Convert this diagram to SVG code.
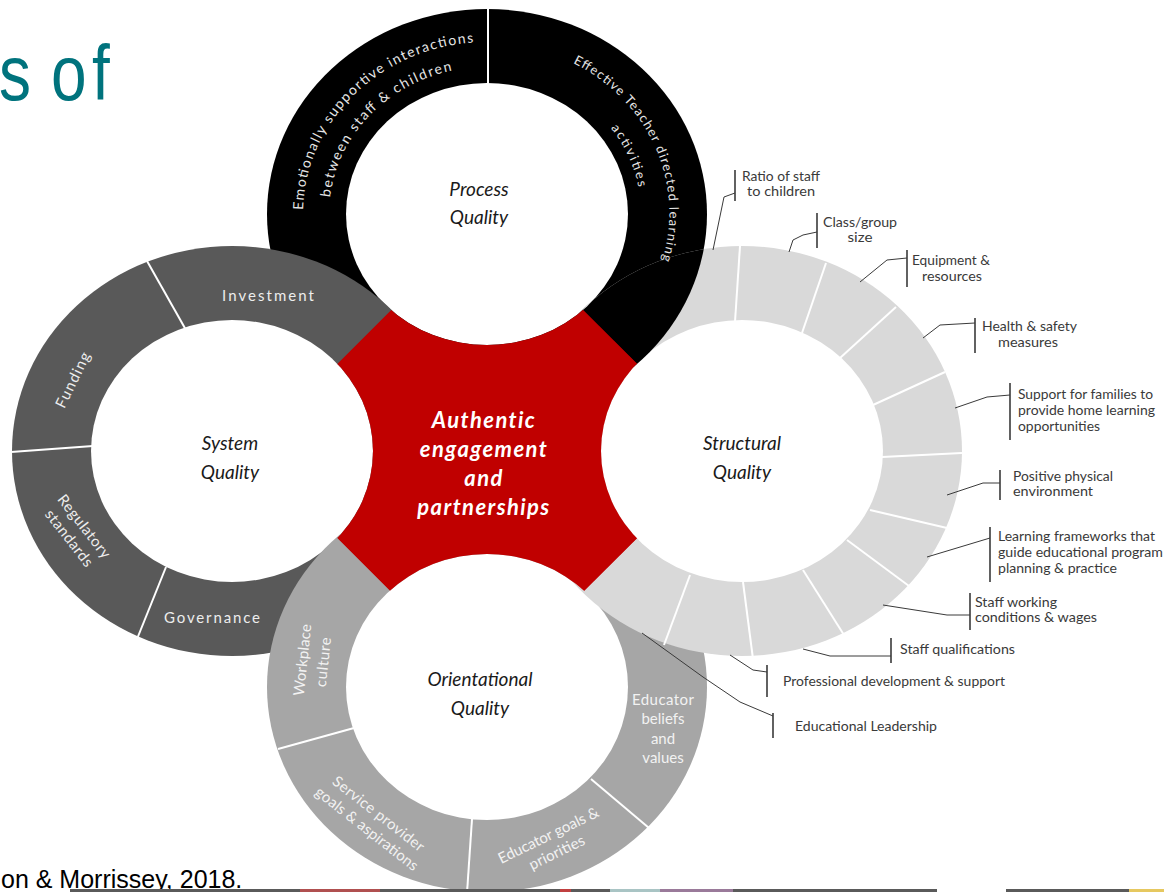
<svg xmlns="http://www.w3.org/2000/svg" xmlns:xlink="http://www.w3.org/1999/xlink" width="1164" height="892" viewBox="0 0 1164 892">
<style>
.div{stroke:#ffffff;stroke-width:2;fill:none}
.inner{fill:#ffffff}
.ctr{font-family:Lato,"Open Sans","Liberation Sans",sans-serif;font-style:italic;font-size:19px;fill:#1a1a1a;text-anchor:middle}
.rl{font-family:Lato,"Open Sans","Liberation Sans",sans-serif;font-size:15px;fill:#ededed;text-anchor:middle}
.pl{font-family:Lato,"Open Sans","Liberation Sans",sans-serif;font-size:14px;fill:#e6e6e6;text-anchor:middle}
.sl{font-family:Lato,"Open Sans","Liberation Sans",sans-serif;font-size:12.5px;fill:#3a3a3a}
.mid{text-anchor:middle}
.ld{stroke:#3a3a3a;stroke-width:1;fill:none}
.bar{stroke:#3a3a3a;stroke-width:1.6;fill:none}
</style>
<defs>
<clipPath id="clip-struct"><ellipse cx="742" cy="451" rx="220" ry="205"/></clipPath>
<mask id="red-mask" maskUnits="userSpaceOnUse" x="0" y="0" width="1164" height="892">
<path d="M487,214 L725,451 L487,688 L250,451 Z" fill="#fff"/>
<ellipse cx="487" cy="214" rx="141" ry="131" fill="#000"/>
<ellipse cx="232" cy="451" rx="141" ry="131" fill="#000"/>
<ellipse cx="742" cy="451" rx="141" ry="131" fill="#000"/>
<ellipse cx="487" cy="687" rx="141" ry="133" fill="#000"/>
</mask>
<path id="pL1" d="M303,214 A184,172 0 0 1 477.4,42.2"/>
<path id="pL2" d="M329.4,224.3 A158,147 0 0 1 478.7,67.2"/>
<path id="pR1" d="M552,54 A182,170 0 0 1 658,272"/>
<path id="pR2" d="M541,79 A154,144 0 0 1 632,263"/>
</defs>

<rect width="1164" height="892" fill="#ffffff"/>

<text font-family="'Liberation Sans',Arial,sans-serif" font-size="64" fill="#00737d" transform="translate(0,100) scale(1,1.22)" x="-1 30 51 92" y="0">s of</text>

<g id="node-process">
<g id="process-disc">
<ellipse cx="487" cy="214" rx="220" ry="205" fill="#000000"/>
<ellipse class="inner" cx="487" cy="214" rx="141" ry="131"/>
<line class="div" x1="488" y1="8" x2="488" y2="84"/>
<text class="pl"><textPath href="#pL1" startOffset="50%" textLength="262" lengthAdjust="spacing">Emotionally supportive interactions</textPath></text>
<text class="pl"><textPath href="#pL2" startOffset="50%" textLength="188" lengthAdjust="spacing">between staff &amp; children</textPath></text>
<text class="pl" style="font-size:13px"><textPath href="#pR1" startOffset="52%" textLength="236" lengthAdjust="spacing">Effective Teacher directed learning</textPath></text>
<text class="pl" style="font-size:13px"><textPath href="#pR2" startOffset="52%" textLength="66" lengthAdjust="spacing">activities</textPath></text>
</g>
<text class="ctr" x="479" y="196">Process</text>
<text class="ctr" x="479" y="224">Quality</text>
</g>

<g id="node-system">
<ellipse cx="232" cy="451" rx="220" ry="205" fill="#595959"/>
<ellipse class="inner" cx="232" cy="451" rx="141" ry="131"/>
<line class="div" x1="147" y1="261" x2="186" y2="330"/>
<line class="div" x1="11" y1="452" x2="93" y2="446"/>
<line class="div" x1="137" y1="639" x2="166" y2="567"/>
<text class="rl" x="268" y="301" textLength="92" lengthAdjust="spacing">Investment</text>
<text class="rl" transform="translate(73,380) rotate(-64)" x="0" y="5" textLength="60" lengthAdjust="spacing">Funding</text>
<text class="rl" transform="translate(77,532) rotate(52)"><tspan x="0" y="-4" textLength="76" lengthAdjust="spacing">Regulatory</tspan><tspan x="0" y="15" textLength="68" lengthAdjust="spacing">standards</tspan></text>
<text class="rl" x="212" y="623" textLength="96" lengthAdjust="spacing">Governance</text>
<text class="ctr" x="230" y="450">System</text>
<text class="ctr" x="230" y="479">Quality</text>
</g>

<g id="node-orientational">
<ellipse cx="487" cy="687" rx="220" ry="205" fill="#a6a6a6"/>
<ellipse class="inner" cx="487" cy="687" rx="141" ry="133"/>
<line class="div" x1="278" y1="749" x2="354" y2="728"/>
<line class="div" x1="472" y1="819" x2="467" y2="893"/>
<line class="div" x1="591" y1="779" x2="649" y2="828"/>
<text class="rl" style="fill:#f2f2f2" transform="translate(312.5,661) rotate(-84)"><tspan x="0" y="-5" textLength="72" lengthAdjust="spacing">Workplace</tspan><tspan x="0" y="16" textLength="50" lengthAdjust="spacing">culture</tspan></text>
<text class="rl" style="fill:#f2f2f2" transform="translate(373,821) rotate(38)"><tspan x="0" y="-4" textLength="112" lengthAdjust="spacing">Service provider</tspan><tspan x="0" y="15" textLength="126" lengthAdjust="spacing">goals &amp; aspirations</tspan></text>
<text class="rl" style="fill:#f2f2f2" transform="translate(552.5,843.5) rotate(-26)"><tspan x="0" y="-4" textLength="110" lengthAdjust="spacing">Educator goals &amp;</tspan><tspan x="0" y="15" textLength="60" lengthAdjust="spacing">priorities</tspan></text>
<text class="rl" style="fill:#f2f2f2"><tspan x="663" y="705" textLength="62" lengthAdjust="spacing">Educator</tspan><tspan x="663" y="724">beliefs</tspan><tspan x="663" y="744">and</tspan><tspan x="663" y="763">values</tspan></text>
<text class="ctr" x="480" y="686">Orientational</text>
<text class="ctr" x="480" y="715">Quality</text>
</g>

<g id="node-structural">
<ellipse cx="742" cy="451" rx="220" ry="205" fill="#d9d9d9"/>
<ellipse class="inner" cx="742" cy="451" rx="141" ry="131"/>
<line class="div" x1="740" y1="246" x2="735" y2="322"/>
<line class="div" x1="826" y1="263" x2="802" y2="333"/>
<line class="div" x1="896" y1="307" x2="840" y2="358"/>
<line class="div" x1="945" y1="372" x2="873" y2="405"/>
<line class="div" x1="962" y1="453" x2="882" y2="457"/>
<line class="div" x1="947" y1="528" x2="870" y2="510"/>
<line class="div" x1="909" y1="586" x2="847" y2="540"/>
<line class="div" x1="844" y1="635" x2="803" y2="570"/>
<line class="div" x1="753" y1="659" x2="743" y2="582"/>
<line class="div" x1="664" y1="645" x2="690" y2="575"/>
<text class="ctr" x="742" y="450">Structural</text>
<text class="ctr" x="742" y="479">Quality</text>
<g id="structural-labels">
<text class="sl mid"><tspan x="781" y="181" textLength="78" lengthAdjust="spacingAndGlyphs">Ratio of staff</tspan><tspan x="781" y="196" textLength="68" lengthAdjust="spacingAndGlyphs">to children</tspan></text>
<text class="sl mid"><tspan x="860" y="227" textLength="74" lengthAdjust="spacingAndGlyphs">Class/group</tspan><tspan x="860" y="242" textLength="25" lengthAdjust="spacingAndGlyphs">size</tspan></text>
<text class="sl mid"><tspan x="951" y="265" textLength="78" lengthAdjust="spacingAndGlyphs">Equipment &amp;</tspan><tspan x="952" y="281" textLength="60" lengthAdjust="spacingAndGlyphs">resources</tspan></text>
<text class="sl mid"><tspan x="1029.5" y="331" textLength="95" lengthAdjust="spacingAndGlyphs">Health &amp; safety</tspan><tspan x="1028" y="347" textLength="60" lengthAdjust="spacingAndGlyphs">measures</tspan></text>
<text class="sl"><tspan x="1018" y="399" textLength="135" lengthAdjust="spacingAndGlyphs">Support for families to</tspan><tspan x="1018" y="415" textLength="137" lengthAdjust="spacingAndGlyphs">provide home learning</tspan><tspan x="1018" y="431" textLength="82" lengthAdjust="spacingAndGlyphs">opportunities</tspan></text>
<text class="sl"><tspan x="1013" y="481" textLength="100" lengthAdjust="spacingAndGlyphs">Positive physical</tspan><tspan x="1013" y="496" textLength="80" lengthAdjust="spacingAndGlyphs">environment</tspan></text>
<text class="sl"><tspan x="998" y="541" textLength="157" lengthAdjust="spacingAndGlyphs">Learning frameworks that</tspan><tspan x="998" y="557" textLength="165" lengthAdjust="spacingAndGlyphs">guide educational program</tspan><tspan x="998" y="573" textLength="119" lengthAdjust="spacingAndGlyphs">planning &amp; practice</tspan></text>
<text class="sl"><tspan x="975" y="607" textLength="82" lengthAdjust="spacingAndGlyphs">Staff working</tspan><tspan x="975" y="622" textLength="122" lengthAdjust="spacingAndGlyphs">conditions &amp; wages</tspan></text>
<text class="sl" x="900" y="654" textLength="115" lengthAdjust="spacingAndGlyphs">Staff qualifications</text>
<text class="sl" x="783" y="686" textLength="222" lengthAdjust="spacingAndGlyphs">Professional development &amp; support</text>
<text class="sl" x="795" y="731" textLength="142" lengthAdjust="spacingAndGlyphs">Educational Leadership</text>
</g>
</g>

<use href="#process-disc" xlink:href="#process-disc" clip-path="url(#clip-struct)"/>

<g id="node-center">
<path d="M487,214 L725,451 L487,688 L250,451 Z" fill="#c00000" mask="url(#red-mask)"/>
<text font-family="Lato,'Open Sans','Liberation Sans',sans-serif" font-style="italic" font-weight="bold" font-size="22" fill="#ffffff" text-anchor="middle" letter-spacing="1.4"><tspan x="484" y="428">Authentic</tspan><tspan x="484" y="457">engagement</tspan><tspan x="484" y="486">and</tspan><tspan x="484" y="515">partnerships</tspan></text>
</g>

<g id="connectors">
<line class="bar" x1="735" y1="170" x2="735" y2="201"/>
<polyline class="ld" points="735,193 724,197 713,250"/>
<line class="bar" x1="817" y1="213" x2="817" y2="248"/>
<polyline class="ld" points="817,232 803,235 793,240 789,252"/>
<line class="bar" x1="907" y1="250" x2="907" y2="287"/>
<polyline class="ld" points="907,258 887,260 860,282"/>
<line class="bar" x1="975" y1="318" x2="975" y2="353"/>
<polyline class="ld" points="975,323 940,325 923,338"/>
<line class="bar" x1="1010" y1="383" x2="1010" y2="440"/>
<polyline class="ld" points="1010,395 987,397 955,408"/>
<line class="bar" x1="1000" y1="470" x2="1000" y2="500"/>
<polyline class="ld" points="1000,483 983,483 947,495"/>
<line class="bar" x1="990" y1="527" x2="990" y2="582"/>
<polyline class="ld" points="990,538 927,557"/>
<line class="bar" x1="970" y1="593" x2="970" y2="630"/>
<polyline class="ld" points="970,615 947,615 883,605"/>
<line class="bar" x1="891" y1="638" x2="891" y2="663"/>
<polyline class="ld" points="891,656 830,656 803,649"/>
<line class="bar" x1="767" y1="665" x2="767" y2="697"/>
<polyline class="ld" points="767,672 753,670 730,655"/>
<line class="bar" x1="773" y1="713" x2="773" y2="738"/>
<polyline class="ld" points="773,716 740,702 703,677 642,633"/>
</g>

<text font-family="'Liberation Sans',Arial,sans-serif" font-size="25" fill="#000000" x="1" y="888">on &amp; Morrissey, 2018.</text>

<g id="footer-strip">
<rect x="70" y="889" width="490" height="3" fill="#5a5a5a"/>
<rect x="300" y="889" width="80" height="3" fill="#b05050"/>
<rect x="560" y="889" width="11" height="3" fill="#c04040"/>
<rect x="571" y="889" width="39" height="3" fill="#5a5a5a"/>
<rect x="610" y="889" width="50" height="3" fill="#a9c4c4"/>
<rect x="660" y="889" width="73" height="3" fill="#9a7a9a"/>
<rect x="733" y="889" width="204" height="3" fill="#5a5a5a"/>
<rect x="1006" y="889" width="123" height="3" fill="#5a5a5a"/>
<rect x="1129" y="889" width="35" height="3" fill="#e6c860"/>
</g>
</svg>
